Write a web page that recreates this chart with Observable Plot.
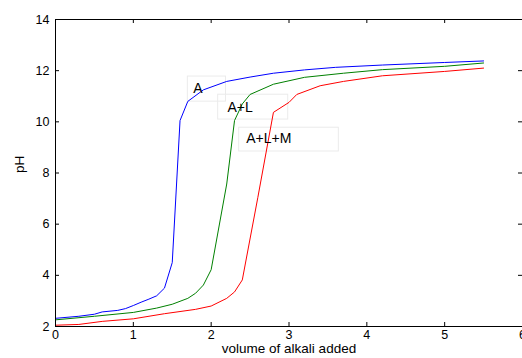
<!DOCTYPE html>
<html>
<head>
<meta charset="utf-8">
<script src="https://cdn.jsdelivr.net/npm/d3@7"></script>
<script src="https://cdn.jsdelivr.net/npm/@observablehq/plot@0.6"></script>
<style>
  html, body { margin: 0; padding: 0; background: #fff; }
  #chart { width: 522px; height: 358px; }
</style>
</head>
<body>
<div id="chart"></div>
<script>
// Series: A (blue)
const xA = [0, 0.3, 0.5, 0.6, 0.8, 0.9, 1.0, 1.1, 1.2, 1.3, 1.4, 1.5, 1.6, 1.7, 1.9, 2.2, 2.5, 2.8, 3.2, 3.6, 4.2, 5.0, 5.5];
const yA = [2.32, 2.40, 2.48, 2.57, 2.63, 2.70, 2.82, 2.95, 3.07, 3.20, 3.50, 4.50, 10.05, 10.80, 11.25, 11.58, 11.75, 11.90, 12.03, 12.13, 12.22, 12.32, 12.38];
// Series: A+L (green)
const xAL = [0, 0.5, 1.0, 1.3, 1.5, 1.7, 1.8, 1.9, 2.0, 2.2, 2.3, 2.4, 2.5, 2.8, 3.2, 3.7, 4.2, 5.0, 5.5];
const yAL = [2.26, 2.40, 2.55, 2.72, 2.87, 3.10, 3.30, 3.62, 4.22, 7.57, 10.05, 10.70, 11.07, 11.47, 11.74, 11.90, 12.04, 12.17, 12.30];
// Series: A+L+M (red)
const xALM = [0, 0.3, 0.6, 1.0, 1.4, 1.8, 2.0, 2.2, 2.3, 2.4, 2.6, 2.8, 3.0, 3.1, 3.4, 3.7, 4.2, 5.0, 5.5];
const yALM = [2.05, 2.08, 2.20, 2.30, 2.50, 2.67, 2.80, 3.10, 3.35, 3.82, 7.05, 10.37, 10.76, 11.07, 11.41, 11.58, 11.80, 11.97, 12.10];

// Annotation labels
const labelText = ["A", "A+L", "A+L+M"];
const labelX = [1.77, 2.21, 2.45];
const labelY = [11.3, 10.55, 9.34];
const boxX1 = [1.70, 2.09, 2.36];
const boxX2 = [2.19, 2.99, 3.64];
const boxY1 = [10.79, 10.09, 8.84];
const boxY2 = [11.77, 11.06, 9.77];

// Ticks
const xTicks = [0, 1, 2, 3, 4, 5, 6];
const yTicks = [2, 4, 6, 8, 10, 12, 14];

const xLabel = "volume of alkali added";
const yLabel = "pH";

const W = 522, H = 358, mL = 55, mR = 0, mT = 19, mB = 32;
const plotW = W - mL - mR, plotH = H - mT - mB;

const toRows = (xs, ys) => xs.map((x, i) => ({x, y: ys[i]}));
const labels = labelText.map((t, i) => ({t, x: labelX[i], y: labelY[i], x1: boxX1[i], x2: boxX2[i], y1: boxY1[i], y2: boxY2[i]}));

const chart = Plot.plot({
  width: W, height: H,
  marginLeft: mL, marginRight: mR, marginTop: mT, marginBottom: mB,
  style: {fontFamily: "'Liberation Sans', Arial, Helvetica, sans-serif", fontSize: "12px", background: "#fff", color: "#000"},
  x: {domain: [0, 6]},
  y: {domain: [2, 14]},
  marks: [
    Plot.rect(labels, {x1: "x1", x2: "x2", y1: "y1", y2: "y2", fill: "none", stroke: "#ebebeb", strokeWidth: 1}),
    Plot.line(toRows(xA, yA), {x: "x", y: "y", stroke: "#0000ff", strokeWidth: 1}),
    Plot.line(toRows(xAL, yAL), {x: "x", y: "y", stroke: "#008000", strokeWidth: 1}),
    Plot.line(toRows(xALM, yALM), {x: "x", y: "y", stroke: "#ff0000", strokeWidth: 1}),
    Plot.text(labels, {x: "x", y: "y", text: "t", textAnchor: "start", fontSize: 14, fill: "#000"}),
    // inward tick marks
    Plot.tickX(xTicks, {x: d => d, insetTop: plotH - 4, stroke: "#000"}),
    Plot.tickX(xTicks, {x: d => d, insetBottom: plotH - 4, stroke: "#000"}),
    Plot.tickY(yTicks, {y: d => d, insetRight: plotW - 4, stroke: "#000"}),
    Plot.tickY(yTicks, {y: d => d, insetLeft: plotW - 4, stroke: "#000"}),
    Plot.axisX(xTicks, {anchor: "bottom", tickSize: 0, tickPadding: 4, label: null, fontSize: 12.5}),
    Plot.axisY(yTicks, {anchor: "left", tickSize: 0, tickPadding: 6, label: null, fontSize: 12.5}),
    Plot.frame({stroke: "#000", strokeWidth: 1}),
    Plot.text([xLabel], {text: d => d, frameAnchor: "bottom", dy: 26.5, fontSize: 13.5, fill: "#000"}),
    Plot.text([yLabel], {text: d => d, frameAnchor: "left", dx: -36, rotate: -90, fontSize: 13.5, fill: "#000"})
  ]
});
document.getElementById("chart").appendChild(chart);
</script>
</body>
</html>
